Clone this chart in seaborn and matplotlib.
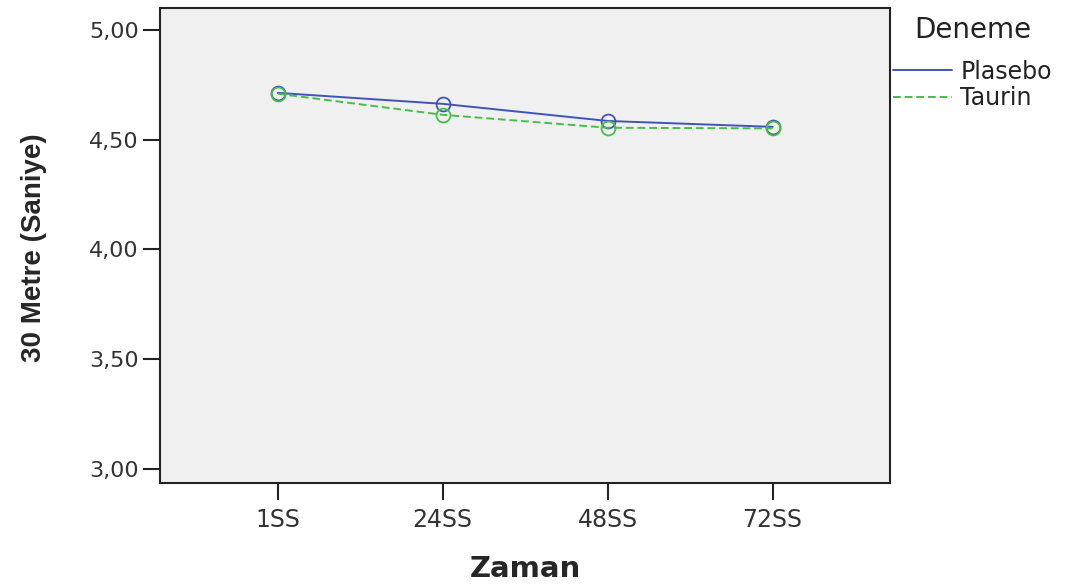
import pandas as pd
import numpy as np
import matplotlib.pyplot as plt
import seaborn as sns
from matplotlib.lines import Line2D

zaman = ["1SS", "24SS", "48SS", "72SS"]
plasebo = [4.714, 4.664, 4.586, 4.559]
taurin = [4.710, 4.614, 4.555, 4.552]
gruplar = ["Plasebo", "Taurin"]
y_ticks = [3.0, 3.5, 4.0, 4.5, 5.0]
y_labels = ["3,00", "3,50", "4,00", "4,50", "5,00"]

renkler = {"Plasebo": "#4253b8", "Taurin": "#45bf45"}

df = pd.DataFrame({
    "Zaman": zaman * 2,
    "Deger": plasebo + taurin,
    "Deneme": [gruplar[0]] * len(zaman) + [gruplar[1]] * len(zaman),
})

sns.set_style("white")
plt.rcParams["font.family"] = ["DejaVu Sans"]

fig, ax = plt.subplots(figsize=(10.72, 5.86), dpi=100)
fig.subplots_adjust(left=0.149, right=0.830, top=0.986, bottom=0.176)
ax.set_facecolor("#f0f0f0")

sns.lineplot(data=df, x="Zaman", y="Deger", hue="Deneme", style="Deneme",
             palette=renkler, dashes={"Plasebo": "", "Taurin": (4, 2)},
             markers={"Plasebo": "o", "Taurin": "o"}, markersize=10,
             linewidth=1.4, legend=False, ax=ax)

# acik daire isaretleri
for line in ax.lines:
    line.set_markerfacecolor("none")
    line.set_markeredgecolor(line.get_color())
    line.set_markeredgewidth(1.3)

ax.set_xlim(-0.715, 3.71)
ax.set_ylim(2.936, 5.10)
ax.set_yticks(y_ticks)
ax.set_yticklabels(y_labels)
ax.tick_params(axis="both", direction="out", length=12, width=1.5,
               color="#222222", labelcolor="#333333", pad=3,
               left=True, bottom=True)
ax.tick_params(axis="y", labelsize=16)
ax.tick_params(axis="x", labelsize=17, pad=6)
for s in ax.spines.values():
    s.set_linewidth(1.5)
    s.set_color("#222222")

ax.set_xlabel("Zaman", fontsize=21, fontweight="bold", va="top")
ax.xaxis.set_label_coords(0.501, -0.152)
ax.set_ylabel("30 Metre (Saniye)", fontsize=20, fontweight="bold",
              family=["Liberation Sans", "DejaVu Sans"])
ax.yaxis.set_label_coords(-0.155, 0.495)

handles = [Line2D([], [], color=renkler["Plasebo"], lw=1.4),
           Line2D([], [], color=renkler["Taurin"], lw=1.4, ls=(0, (4, 2)))]
leg = fig.legend(handles, gruplar, title="Deneme", loc="upper left",
                 bbox_to_anchor=(0.833, 0.972), frameon=False, fontsize=17,
                 title_fontsize=20, handlelength=2.5, handletextpad=0.35,
                 labelspacing=0.1, borderaxespad=0, borderpad=0)
leg._legend_box.sep = 11
leg.get_title().set_color("#222222")
for t in leg.get_texts():
    t.set_color("#222222")

fig.savefig("out.png", dpi=100)
